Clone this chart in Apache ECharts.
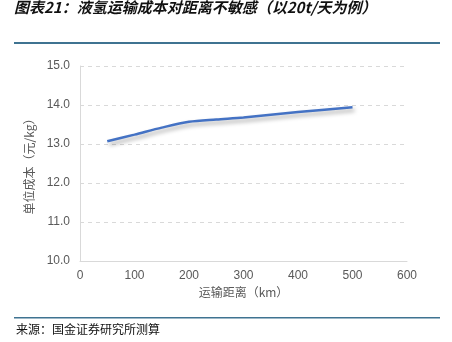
<!DOCTYPE html>
<html>
<head>
<meta charset="utf-8">
<script src="https://cdn.jsdelivr.net/npm/echarts@6/dist/echarts.min.js"></script>
<style>
html,body{margin:0;padding:0;background:#fff;}
#chart{width:452px;height:342px;}
</style>
</head>
<body>
<div id="chart"></div>
<script>
// Transport distance (km) and unit cost (yuan/kg) for liquid hydrogen, 20 t/day
const distances = [50, 100, 150, 200, 250, 300, 400, 500];
const unitCost = [13.07, 13.24, 13.42, 13.57, 13.63, 13.68, 13.82, 13.94];
const xTicks = [0, 100, 200, 300, 400, 500, 600];
const yTicks = [10, 11, 12, 13, 14, 15];

const titleText = '图表21：液氢运输成本对距离不敏感（以20t/天为例）';
const sourceText = '来源：国金证券研究所测算';

const chart = echarts.init(document.getElementById('chart'));
chart.setOption({
  animation: false,
  backgroundColor: '#fff',
  grid: { left: 80, right: 45, top: 66, bottom: 81 },
  xAxis: {
    type: 'value',
    min: xTicks[0], max: xTicks[xTicks.length - 1], interval: 100,
    name: '运输距离（km）', nameLocation: 'middle', nameGap: 23,
    nameTextStyle: { color: '#595959', fontSize: 12, fontFamily: 'Noto Sans CJK SC' },
    axisLine: { show: true, lineStyle: { color: '#d9d9d9', width: 1 } },
    axisTick: { show: false },
    splitLine: { show: false },
    axisLabel: { color: '#595959', fontSize: 12, margin: 9, fontFamily: 'Liberation Sans' }
  },
  yAxis: {
    type: 'value',
    min: yTicks[0], max: yTicks[yTicks.length - 1], interval: 1,
    name: '单位成本（元/kg）', nameLocation: 'middle', nameGap: 41,
    nameTextStyle: { color: '#595959', fontSize: 12, fontFamily: 'Noto Sans CJK SC' },
    axisLine: { show: true, lineStyle: { color: '#d9d9d9', width: 1 } },
    axisTick: { show: false },
    splitLine: { show: true, lineStyle: { color: '#d9d9d9', type: [4, 4], width: 1 } },
    axisLabel: { color: '#595959', fontSize: 12, margin: 10, fontFamily: 'Liberation Sans',
      formatter: v => v.toFixed(1) }
  },
  series: [{
    type: 'line',
    data: distances.map((d, i) => [d, unitCost[i]]),
    smooth: 0.3,
    showSymbol: false,
    lineStyle: { color: '#4472c4', width: 2.5,
      shadowColor: 'rgba(0,0,0,0.35)', shadowBlur: 4, shadowOffsetX: 2, shadowOffsetY: 3 }
  }],
  graphic: [
    { type: 'text', left: 14, top: 0,
      style: { text: titleText, fontSize: 15, fontStyle: 'italic', fontWeight: 'bold',
        fill: '#111', fontFamily: 'Noto Sans CJK SC' } },
    { type: 'rect', shape: { x: 14, y: 42, width: 426, height: 2 },
      style: { fill: '#3f7391' } },
    { type: 'rect', shape: { x: 14, y: 317, width: 426, height: 1.5 },
      style: { fill: '#3f7391' } },
    { type: 'text', left: 16, top: 323,
      style: { text: sourceText, fontSize: 12, fill: '#111', fontFamily: 'Noto Sans CJK SC' } }
  ]
});
</script>
</body>
</html>
